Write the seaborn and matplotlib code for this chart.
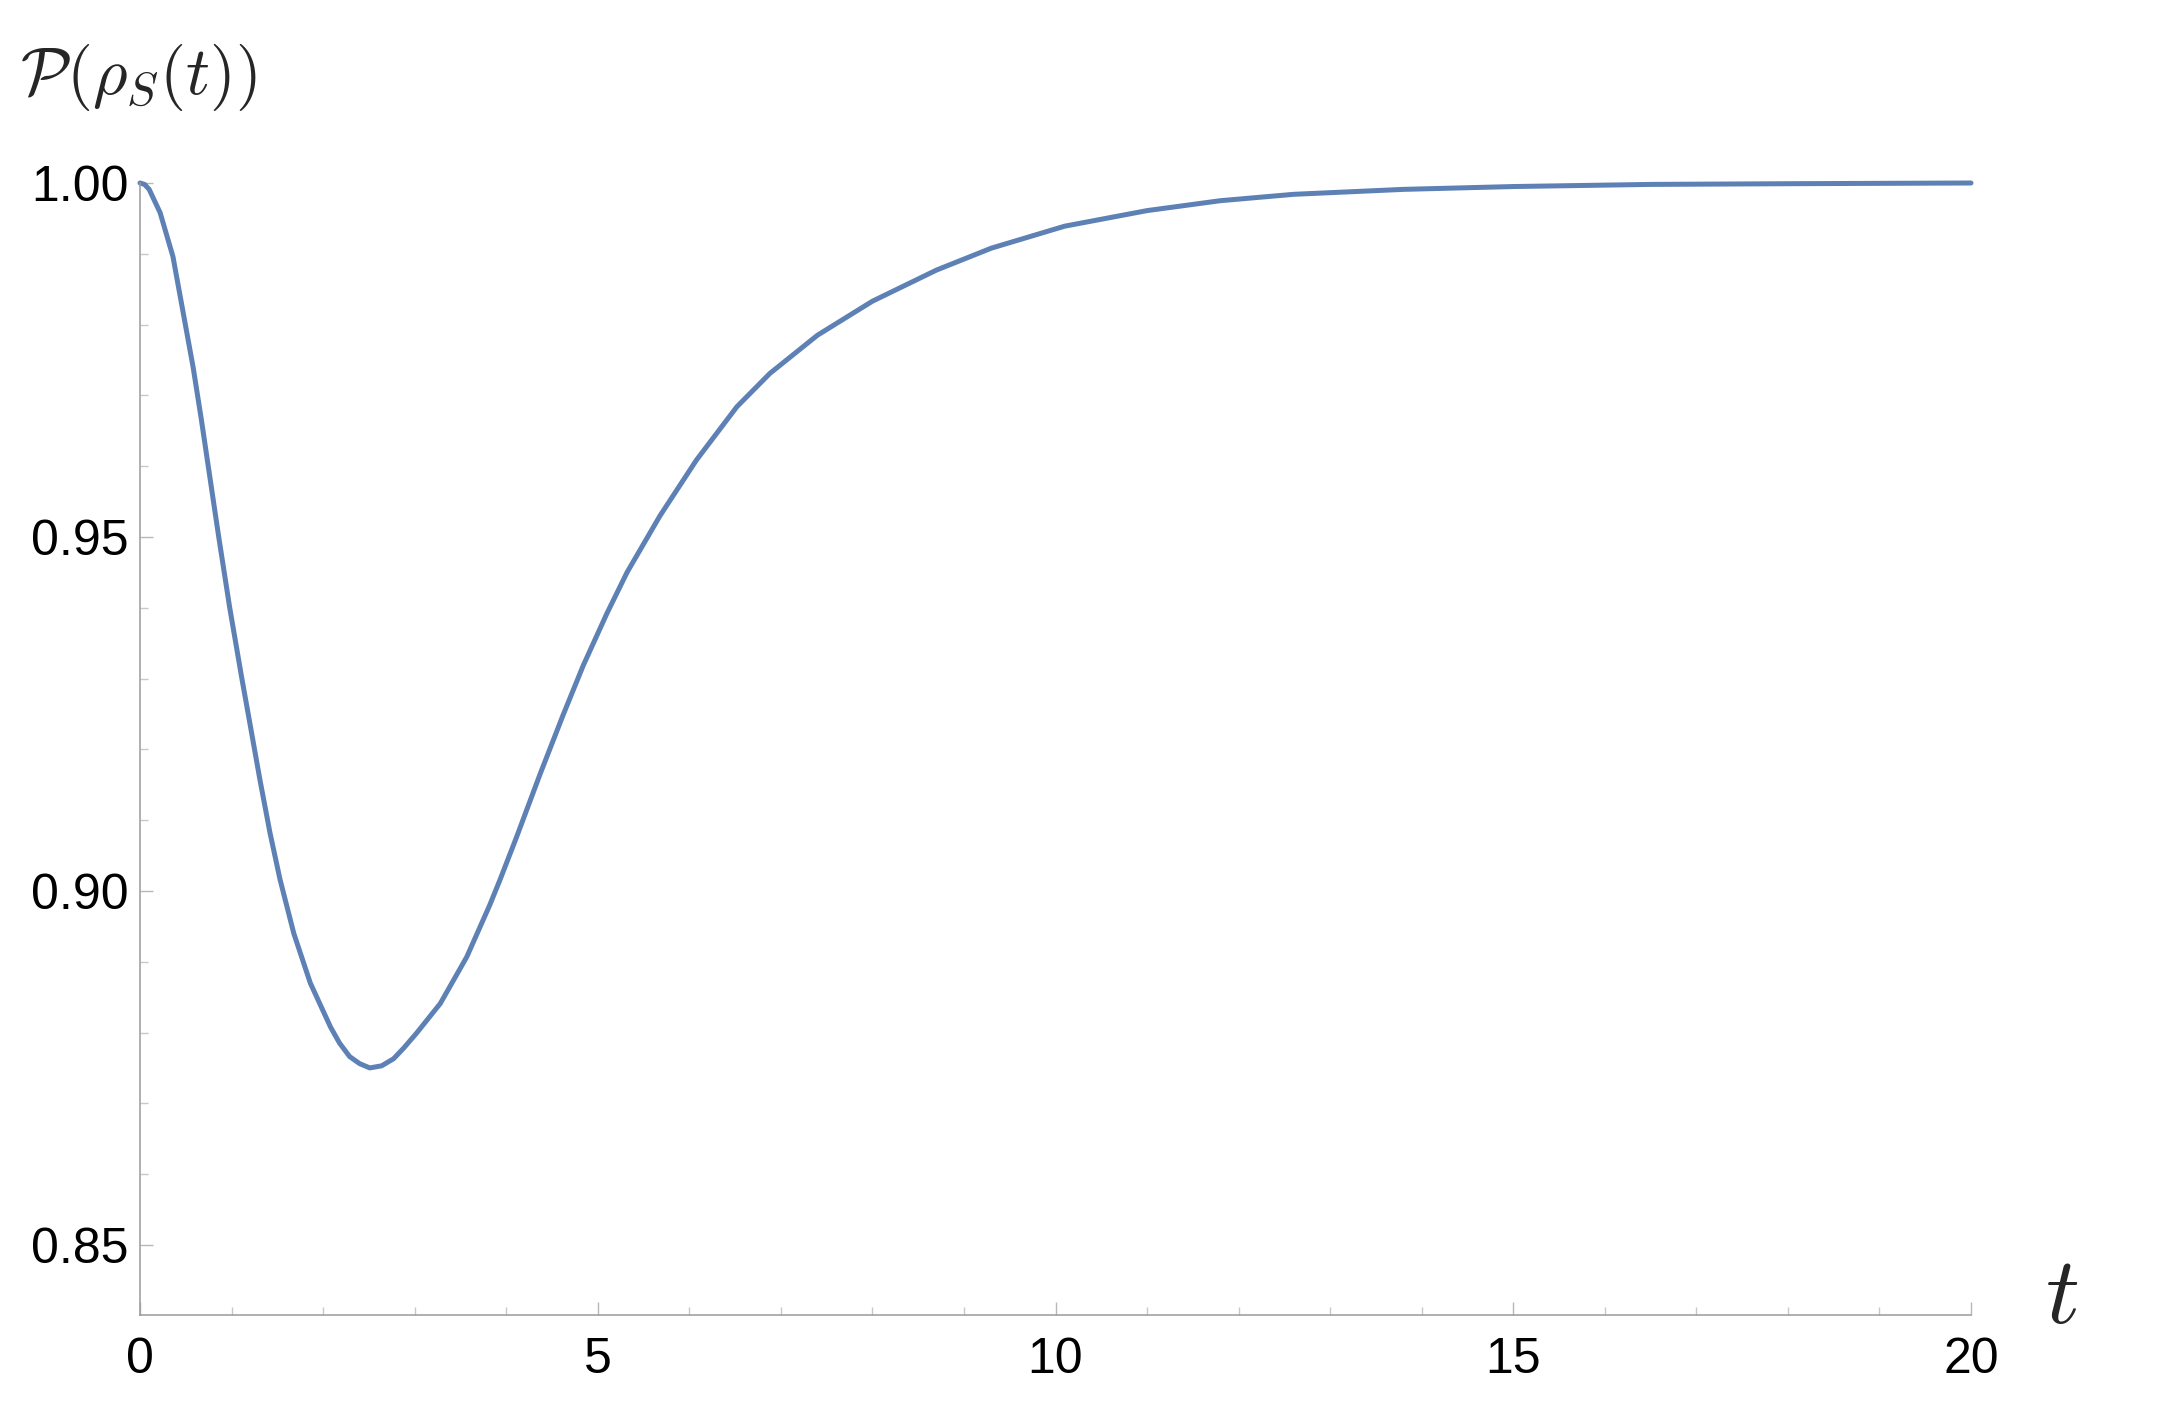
import numpy as np
import pandas as pd
import matplotlib
matplotlib.use("Agg")
import matplotlib.pyplot as plt
import seaborn as sns
from matplotlib.ticker import MultipleLocator

# values
t_vals = [0.00, 0.05, 0.10, 0.22, 0.36, 0.47, 0.58, 0.67, 0.75, 0.86, 0.98,
          1.11, 1.20, 1.31, 1.42, 1.53, 1.68, 1.86, 2.08, 2.18, 2.29, 2.40,
          2.51, 2.64, 2.77, 2.88, 3.02, 3.28, 3.57, 3.82, 3.93, 4.11, 4.37,
          4.62, 4.84, 5.10, 5.32, 5.68, 6.08, 6.52, 6.88, 7.40, 8.00, 8.70,
          9.30, 10.10, 11.00, 11.80, 12.60, 13.80, 15.00, 16.50, 18.00, 20.00]
purity = [1.0000, 0.9998, 0.9991, 0.9958, 0.9896, 0.9818, 0.9740, 0.9666,
          0.9596, 0.9500, 0.9400, 0.9302, 0.9237, 0.9157, 0.9082, 0.9016,
          0.8940, 0.8870, 0.8808, 0.8785, 0.8766, 0.8756, 0.8750, 0.8753,
          0.8763, 0.8778, 0.8799, 0.8841, 0.8907, 0.8980, 0.9015, 0.9075,
          0.9165, 0.9248, 0.9318, 0.9392, 0.9450, 0.9530, 0.9609, 0.9684,
          0.9731, 0.9785, 0.9833, 0.9877, 0.9908, 0.9939, 0.9961, 0.9975,
          0.9984, 0.9991, 0.9995, 0.9998, 0.9999, 1.0000]

x_ticks = [0, 5, 10, 15, 20]
y_ticks = [0.85, 0.90, 0.95, 1.00]
y_ticklabels = ["0.85", "0.90", "0.95", "1.00"]

df = pd.DataFrame({"t": t_vals, "P": purity})

sns.set_style("white")
plt.rcParams["font.family"] = ["Liberation Sans", "DejaVu Sans"]
plt.rcParams["mathtext.fontset"] = "cm"

W, H = 2157, 1403
fig = plt.figure(figsize=(W / 100, H / 100), dpi=100)
ax = fig.add_axes([140 / W, 1 - 1315 / H, 1831 / W, (1315 - 183) / H])

sns.lineplot(data=df, x="t", y="P", ax=ax, color="#5E81B5", linewidth=3.6,
             clip_on=False, solid_joinstyle="round", solid_capstyle="round")

ax.set_xlim(0, 20)
ax.set_ylim(0.8401, 1.0)
ax.set_xticks(x_ticks)
ax.set_xticklabels([str(v) for v in x_ticks])
ax.set_yticks(y_ticks)
ax.set_yticklabels(y_ticklabels)
ax.xaxis.set_minor_locator(MultipleLocator(1))
ax.yaxis.set_minor_locator(MultipleLocator(0.01))
ax.set_xlabel("")
ax.set_ylabel("")

for s in ["top", "right"]:
    ax.spines[s].set_visible(False)
for s in ["left", "bottom"]:
    ax.spines[s].set_color("#9a9a9a")
    ax.spines[s].set_linewidth(1.1)

ax.tick_params(which="both", bottom=True, left=True, top=False, right=False)
ax.tick_params(which="major", direction="in", length=9.5, width=1.0,
               color="#b8b8b8", labelsize=36, labelcolor="black")
ax.tick_params(which="minor", direction="in", length=5.8, width=1.0,
               color="#c8c8c8")
ax.tick_params(axis="x", which="major", pad=16)
ax.tick_params(axis="y", which="major", pad=8)

fig.text(20 / W, 1 - 94 / H, r"$\mathcal{P}(\rho_S(t))$", fontsize=48,
         ha="left", va="baseline")
fig.text(2045 / W, 1 - 1323 / H, r"$t$", fontsize=68, ha="left",
         va="baseline")

fig.savefig("out.png", dpi=100, facecolor="white")
